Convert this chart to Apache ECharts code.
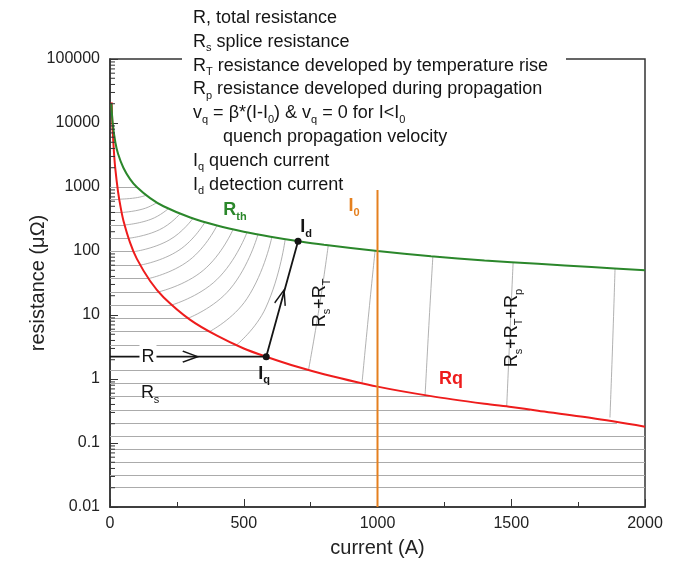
<!DOCTYPE html>
<html>
<head>
<meta charset="utf-8">
<script src="https://cdn.jsdelivr.net/npm/echarts@6/dist/echarts.min.js"></script>
<style>html,body{margin:0;background:#fff}#chart{width:688px;height:571px}</style>
</head>
<body>
<div id="chart"></div>
<script>
var FONT = 'Liberation Sans, Arial, sans-serif';
var GREEN = '#2b872b', RED = '#ee1c1c', ORANGE = '#e5801f', INK = '#151515';

// R_th (detection threshold, green)
var rthCurrent = [5, 10, 20, 30, 50, 75, 100, 150, 200, 300, 400, 500, 600, 700, 800, 1000, 1200, 1400, 1600, 1800, 2000];
var rthValue = [20000, 10000, 5000, 3300, 2000, 1330, 1000, 670, 500, 333, 250, 200, 167, 143, 125, 100, 83, 71, 63, 56, 50];

// Rq (quench resistance, red)
var rqCurrent = [6, 8, 10, 15, 20, 30, 40, 50, 75, 100, 150, 200, 300, 400, 500, 584, 700, 800, 1000, 1200, 1400, 1500, 1600, 1800, 2000];
var rqValue = [21000, 12000, 7600, 3400, 1900, 850, 475, 300, 135, 76, 34, 19, 8.4, 4.75, 3.0, 2.23, 1.55, 1.19, 0.76, 0.54, 0.41, 0.365, 0.32, 0.245, 0.18];

// constant splice resistance levels (grey horizontals) and where they stop
var hLevel = [1000, 645, 400, 255, 158, 97.5, 60, 37, 23, 14.3, 8.9, 5.5, 3.4, 1.38, 0.857, 0.53, 0.328, 0.207, 0.129, 0.0806, 0.0505, 0.0308, 0.02];
var hEnd = [100, 34, 44, 55, 69, 88, 112, 143, 182, 230, 292, 372, 473, 742, 942, 1195, 1570, 1895, 2000, 2000, 2000, 2000, 2000];

// grey rise curves from Rq up to R_th (start, middle, end)
var riseStartI = [34, 44, 55, 69, 88, 112, 143, 182, 230, 292, 372, 473, 742, 942, 1178, 1483, 1869];
var riseStartR = [645, 400, 255, 158, 97.5, 60, 37, 23, 14.3, 8.9, 5.5, 3.4, 1.38, 0.857, 0.56, 0.37, 0.25];
var riseMidI = [95, 123, 153, 185, 221, 258, 297, 349, 399, 449, 512, 582, 782, 968, 1192, 1495, 1879];
var riseMidR = [676, 453, 313, 215, 148, 103, 72, 50, 35.6, 25.5, 18, 12.9, 13, 11.5, 6.85, 5.05, 3.5];
var riseEndI = [135, 175, 218, 262, 310, 355, 400, 460, 512, 553, 605, 655, 816, 991, 1207, 1507, 1888];
var riseEndR = [741, 571, 459, 382, 323, 282, 250, 217, 195, 181, 165, 153, 123, 101, 82.8, 66.4, 53];

// the highlighted path R -> Iq -> Id
var pathCurrent = [0, 584, 703];
var pathValue = [2.23, 2.23, 142];
var arrowCurrent = [300, 643];
var arrowValue = [2.23, 19];
var arrowAngle = [0, 74];

// I0 line
var i0Current = 1000;
var i0Top = 900;

// annotations
var labelText = [
  '{gb|R}{gs|th}',
  '{kb|I}{ks|d}',
  '{ob|I}{os|0}',
  '{n|R}{s|s}{n|+R}{s|T}',
  '{n|R}{s|s}{n|+R}{s|T}{n|+R}{s|p}',
  '{rb|Rq}',
  '{n|R}{s|s}',
  '{n|R}',
  '{kb|I}{ks|q}'
];
var labelCurrent = [467, 733, 912, 785, 1503, 1275, 150, 142, 576];
var labelValue = [437, 235, 505, 15.4, 6.27, 1.0, 0.6, 2.23, 1.2];
var labelRotate = [0, 0, 0, 90, 90, 0, 0, 0, 0];

var legendLines = [
  '{n|R, total resistance}',
  '{n|R}{s|s}{n| splice resistance}',
  '{n|R}{s|T}{n| resistance developed by temperature rise}',
  '{n|R}{s|p}{n| resistance developed during propagation}',
  '{n|v}{s|q}{n| = β*(I-I}{s|0}{n|) & v}{s|q}{n| = 0 for I<I}{s|0}',
  '{n|      quench propagation velocity}',
  '{n|I}{s|q}{n| quench current}',
  '{n|I}{s|d}{n| detection current}'
];

var xTickLabels = ['0', '500', '1000', '1500', '2000'];
var yTickLabels = ['0.01', '0.1', '1', '10', '100', '1000', '10000', '100000'];
var minorTicks = [];
for (var k = -2; k < 5; k++) {
  for (var m = 2; m <= 9; m++) minorTicks.push(m * Math.pow(10, k));
}

function pairs(xs, ys) {
  return xs.map(function (x, i) { return [x, ys[i]]; });
}

function richSet(size, lh) {
  function main(color, bold) {
    return { fontFamily: FONT, fontSize: size, color: color, fontWeight: bold ? 'bold' : 'normal', lineHeight: lh };
  }
  function sub(color, bold) {
    return { fontFamily: FONT, fontSize: 11, color: color, fontWeight: bold ? 'bold' : 'normal', lineHeight: 1, verticalAlign: 'bottom' };
  }
  return {
    n: main(INK), s: sub(INK),
    gb: main(GREEN, true), gs: sub(GREEN, true),
    kb: main(INK, true), ks: sub(INK, true),
    ob: main(ORANGE, true), os: sub(ORANGE, true),
    rb: main(RED, true)
  };
}

var series = [];

series.push({
  type: 'lines',
  coordinateSystem: 'cartesian2d',
  silent: true,
  z: 1,
  lineStyle: { color: '#ababab', width: 1, opacity: 1 },
  data: hLevel.map(function (r, i) { return { coords: [[0, r], [hEnd[i], r]] }; })
});

riseStartI.forEach(function (x, i) {
  series.push({
    type: 'line',
    silent: true,
    z: 1,
    smooth: 0.5,
    symbol: 'none',
    lineStyle: { color: '#9d9d9d', width: 0.8 },
    data: [[x, riseStartR[i]], [riseMidI[i], riseMidR[i]], [riseEndI[i], riseEndR[i]]]
  });
});

series.push({
  type: 'custom',
  coordinateSystem: 'cartesian2d',
  silent: true,
  clip: false,
  z: 6,
  data: minorTicks.map(function (v) { return [0, v]; }),
  renderItem: function (params, api) {
    var p = api.coord([api.value(0), api.value(1)]);
    return { type: 'line', shape: { x1: p[0], y1: p[1], x2: p[0] + 5, y2: p[1] }, style: { stroke: '#333', lineWidth: 1 } };
  }
});

series.push({
  type: 'line', name: 'Rq', z: 3, smooth: 0.3, symbol: 'none',
  lineStyle: { color: RED, width: 2 },
  data: pairs(rqCurrent, rqValue)
});
series.push({
  type: 'line', name: 'Rth', z: 3, smooth: 0.3, symbol: 'none',
  lineStyle: { color: GREEN, width: 2 },
  data: pairs(rthCurrent, rthValue)
});
series.push({
  type: 'line', name: 'I0', z: 4, symbol: 'none',
  lineStyle: { color: ORANGE, width: 2 },
  data: [[i0Current, 0.01], [i0Current, i0Top]]
});
series.push({
  type: 'line', name: 'path', z: 4, symbol: 'none',
  lineStyle: { color: INK, width: 1.8 },
  data: pairs(pathCurrent, pathValue)
});
series.push({
  type: 'scatter', z: 5, symbolSize: 7,
  itemStyle: { color: INK, opacity: 1 },
  data: [[pathCurrent[1], pathValue[1]], [pathCurrent[2], pathValue[2]]]
});
series.push({
  type: 'scatter', z: 5,
  symbol: 'path://M0,0 L14,5 L0,10',
  symbolSize: [15, 11],
  itemStyle: { color: 'rgba(0,0,0,0)', borderColor: INK, borderWidth: 1.6, opacity: 1 },
  data: arrowCurrent.map(function (x, i) {
    return { value: [x, arrowValue[i]], symbolRotate: arrowAngle[i] };
  })
});
series.push({
  type: 'scatter', z: 7, symbolSize: 0,
  itemStyle: { opacity: 1 },
  label: { show: true, position: 'inside', rich: richSet(18, 24) },
  data: labelCurrent.map(function (x, i) {
    var lab = { formatter: labelText[i], rotate: labelRotate[i] };
    if (labelText[i] === '{n|R}') {
      lab.backgroundColor = '#fff';
      lab.padding = [0, 2];
    }
    return { value: [x, labelValue[i]], label: lab };
  })
});

var option = {
  animation: false,
  backgroundColor: '#fff',
  grid: { left: 110, right: 43, top: 59, bottom: 64, show: true, borderColor: '#333', borderWidth: 1.5 },
  xAxis: {
    type: 'value', min: 0, max: 2000, interval: 500,
    axisLine: { lineStyle: { color: '#333', width: 1.5 } },
    axisTick: { inside: true, length: 8, lineStyle: { color: '#333' } },
    minorTick: { show: true, splitNumber: 2, length: 5, lineStyle: { color: '#333' } },
    splitLine: { show: false },
    axisLabel: {
      fontFamily: FONT, fontSize: 16, color: '#222', margin: 9,
      formatter: function (v) { return xTickLabels[Math.round(v / 500)]; }
    },
    name: 'current (A)', nameLocation: 'middle', nameGap: 31, nameMoveOverlap: false,
    nameTextStyle: { fontFamily: FONT, fontSize: 20, color: '#222' }
  },
  yAxis: {
    type: 'log', logBase: 10, min: 0.01, max: 100000, splitNumber: 7,
    axisLine: { show: true, lineStyle: { color: '#333', width: 1.5 } },
    axisTick: { inside: true, length: 8, lineStyle: { color: '#333' } },
    splitLine: { show: false },
    axisLabel: {
      fontFamily: FONT, fontSize: 16, color: '#222', margin: 10,
      formatter: function (v) { return yTickLabels[Math.round(Math.log10(v)) + 2]; }
    },
    name: 'resistance (μΩ)', nameLocation: 'middle', nameGap: 62, nameMoveOverlap: false,
    nameTextStyle: { fontFamily: FONT, fontSize: 20, color: '#222' }
  },
  graphic: [
    { type: 'rect', z: 100, shape: { x: 182, y: 55, width: 384, height: 8 }, style: { fill: '#fff' } },
    {
      type: 'text', z: 101, left: 193, top: 9,
      style: { text: legendLines.join('\n'), rich: richSet(18, 23.8), fill: INK, fontFamily: FONT, fontSize: 18 }
    }
  ],
  series: series
};

var chart = echarts.init(document.getElementById('chart'));
chart.setOption(option);
</script>
</body>
</html>
